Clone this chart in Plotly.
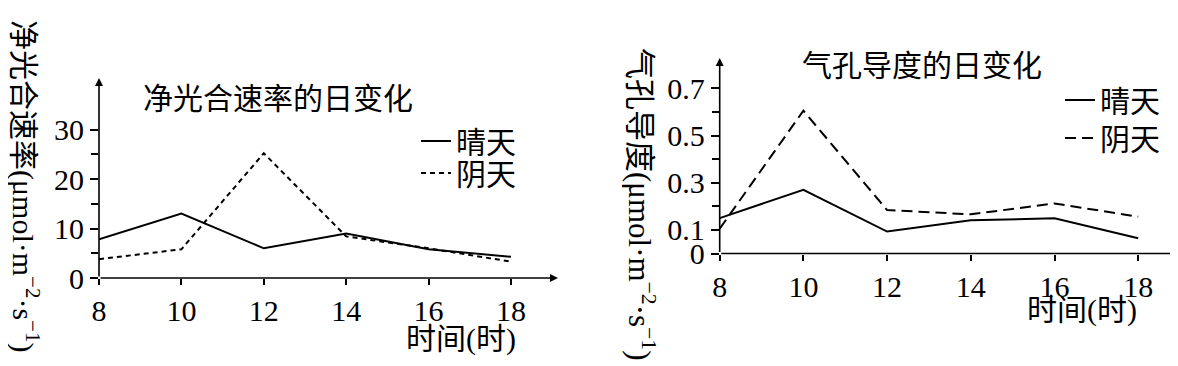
import plotly.graph_objects as go

# ---------------- data ----------------
hours = [8, 10, 12, 14, 16, 18]
hour_labels = ["8", "10", "12", "14", "16", "18"]

# 净光合速率 (μmol·m-2·s-1)
pn_sunny = [7.8, 13.0, 6.0, 9.0, 5.8, 4.3]
pn_cloudy = [3.8, 5.8, 25.2, 8.4, 6.0, 3.3]
pn_ticks = [0, 10, 20, 30]
pn_minor = [5, 15, 25]

# 气孔导度 (μmol·m-2·s-1)
gs_sunny = [0.150, 0.270, 0.093, 0.141, 0.149, 0.065]
gs_cloudy = [0.105, 0.605, 0.184, 0.166, 0.212, 0.156]
gs_ticks = [0, 0.1, 0.3, 0.5, 0.7]
gs_ticktext = ["0", "0.1", "0.3", "0.5", "0.7"]
gs_minor = [0.2, 0.4, 0.6]

W, H = 1178, 366
FONT = "Times New Roman, Liberation Serif, DejaVu Serif, Noto Sans CJK SC, serif"
NUMFONT = "Liberation Serif"


def px(x):
    return x / W


def py(y):
    return 1 - y / H


fig = go.Figure()

fig.add_trace(go.Scatter(x=hours, y=pn_sunny, mode="lines", name="晴天",
                         line=dict(color="black", width=2), xaxis="x", yaxis="y",
                         legend="legend"))
fig.add_trace(go.Scatter(x=hours, y=pn_cloudy, mode="lines", name="阴天",
                         line=dict(color="black", width=2, dash="5px,4px"),
                         xaxis="x", yaxis="y", legend="legend3"))
fig.add_trace(go.Scatter(x=hours, y=gs_sunny, mode="lines", name="晴天",
                         line=dict(color="black", width=2), xaxis="x2", yaxis="y2",
                         legend="legend2"))
fig.add_trace(go.Scatter(x=hours, y=gs_cloudy, mode="lines", name="阴天",
                         line=dict(color="black", width=2, dash="11px,6px"),
                         xaxis="x2", yaxis="y2", legend="legend4"))

x1_max = 8 + (550 - 91) / 41.2
y1_max = 200 / 4.95
x2_max = 8 + (1173 - 711.7) / 41.85
y2_max = (245.5 - 50) / 236

common_axis = dict(showgrid=False, zeroline=False, showline=False, automargin=False,
                   ticks="outside", tickcolor="black", tickwidth=1.5,
                   tickfont=dict(family=NUMFONT, size=30, color="black"))


def leg(x, y):
    return dict(x=px(x), y=py(y), xanchor="left", yanchor="middle",
                bgcolor="rgba(0,0,0,0)", font=dict(family=FONT, size=30),
                itemwidth=30, borderwidth=0)


fig.update_layout(
    width=W, height=H, autosize=False,
    margin=dict(l=0, r=0, t=0, b=0, pad=0, autoexpand=False),
    plot_bgcolor="white", paper_bgcolor="white",
    font=dict(family=FONT, color="black"),
    xaxis=dict(domain=[px(91), px(550)], range=[8, x1_max], anchor="y",
               tickmode="array", tickvals=hours, ticktext=hour_labels, ticklen=6,
               **common_axis),
    yaxis=dict(domain=[py(270), py(70)], range=[0, y1_max], anchor="x",
               tickmode="array", tickvals=pn_ticks, ticklen=8,
               minor=dict(tickmode="array", tickvals=pn_minor, ticks="outside",
                          ticklen=7, tickwidth=1.5, tickcolor="black"),
               **common_axis),
    xaxis2=dict(domain=[px(711.7), px(1173)], range=[8, x2_max], anchor="y2",
                tickmode="array", tickvals=hours, ticktext=hour_labels, ticklen=6,
                **common_axis),
    yaxis2=dict(domain=[py(245.5), py(50)], range=[0, y2_max], anchor="x2",
                tickmode="array", tickvals=gs_ticks, ticktext=gs_ticktext, ticklen=8,
                minor=dict(tickmode="array", tickvals=gs_minor, ticks="outside",
                           ticklen=7, tickwidth=1.5, tickcolor="black"),
                **common_axis),
    legend=leg(408, 133),
    legend3=leg(408, 165),
    legend2=leg(1052, 92),
    legend4=leg(1052, 130),
    showlegend=True,
)

# axis arrows
arrow = dict(text="", showarrow=True, arrowhead=2, arrowsize=1, arrowwidth=1.6,
             arrowcolor="black", standoff=0, startstandoff=0)
fig.add_annotation(x=x1_max, y=0, ax=8, ay=0, xref="x", yref="y", axref="x", ayref="y", **arrow)
fig.add_annotation(x=8, y=y1_max, ax=8, ay=0, xref="x", yref="y", axref="x", ayref="y", **arrow)
fig.add_annotation(x=x2_max, y=0, ax=8, ay=0, xref="x2", yref="y2", axref="x2", ayref="y2", **arrow)
fig.add_annotation(x=8, y=y2_max, ax=8, ay=0, xref="x2", yref="y2", axref="x2", ayref="y2", **arrow)

txt = dict(xref="paper", yref="paper", showarrow=False, xanchor="center", yanchor="middle")
# titles
fig.add_annotation(text="净光合速率的日变化", x=px(270), y=py(90),
                   font=dict(family=FONT, size=30), **txt)
fig.add_annotation(text="气孔导度的日变化", x=px(914), y=py(58),
                   font=dict(family=FONT, size=30), **txt)
# x-axis titles
fig.add_annotation(text="时间(时)", x=px(453), y=py(331),
                   font=dict(family=FONT, size=30), **txt)
fig.add_annotation(text="时间(时)", x=px(1074), y=py(302),
                   font=dict(family=FONT, size=30), **txt)
# y-axis titles
fig.add_annotation(text="净光合速率(μmol·m<sup>−2</sup>·s<sup>−1</sup>)", textangle=90,
                   x=px(18), y=py(178), font=dict(family=FONT, size=30), **txt)
fig.add_annotation(text="气孔导度(μmol·m<sup>−2</sup>·s<sup>−1</sup>)", textangle=90,
                   x=px(634), y=py(196), font=dict(family=FONT, size=31), **txt)

fig.write_html("out.html", config={"displayModeBar": False})
